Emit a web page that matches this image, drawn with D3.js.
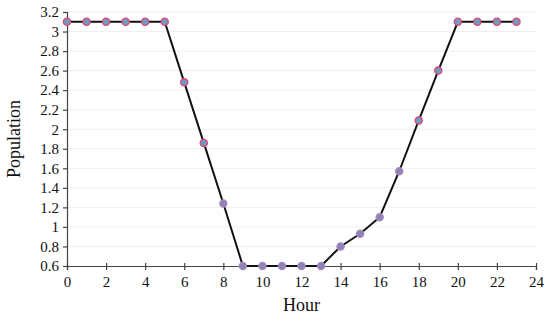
<!DOCTYPE html>
<html><head><meta charset="utf-8">
<script src="https://cdn.jsdelivr.net/npm/d3@7"></script>
<style>body{margin:0;background:#fff}text{font-family:"Liberation Serif","Times New Roman",serif;fill:#111}</style>
</head><body><svg id="c" width="550" height="322"></svg>
<script>
const hours = [0,1,2,3,4,5,6,7,8,9,10,11,12,13,14,15,16,17,18,19,20,21,22,23];
const population = [3.1,3.1,3.1,3.1,3.1,3.1,2.48,1.86,1.24,0.6,0.6,0.6,0.6,0.6,0.8,0.93,1.1,1.57,2.09,2.6,3.1,3.1,3.1,3.1];
const xTicks = [0,2,4,6,8,10,12,14,16,18,20,22,24];
const yTicks = [0.6,0.8,1,1.2,1.4,1.6,1.8,2,2.2,2.4,2.6,2.8,3,3.2];

const svg = d3.select("#c");
const m = {l:67, r:14, t:12, b:56};
const W = 550, H = 322;
const x = d3.scaleLinear().domain([0,24]).range([m.l, W-m.r]);
const y = d3.scaleLinear().domain([0.6,3.2]).range([H-m.b, m.t]);

svg.append("g").selectAll("line").data(yTicks.slice(1)).join("line")
  .attr("x1", x(0)).attr("x2", x(24)).attr("y1", d=>y(d)).attr("y2", d=>y(d))
  .attr("stroke", "#efefef").attr("stroke-width", 1);

const fmt = d => d3.format("~g")(d);
const yAx = svg.append("g").attr("transform", `translate(${x(0)},0)`)
  .call(d3.axisLeft(y).tickValues(yTicks).tickFormat(fmt).tickSize(4).tickPadding(4));
const xAx = svg.append("g").attr("transform", `translate(0,${y(0.6)})`)
  .call(d3.axisBottom(x).tickValues(xTicks).tickFormat(fmt).tickSize(4).tickPadding(6));
[yAx, xAx].forEach(g => {
  g.attr("font-family", "Liberation Serif").attr("font-size", 15);
  g.select(".domain").attr("stroke", "#444").attr("stroke-width", 1.2);
  g.selectAll(".tick line").attr("stroke", "#444").attr("stroke-width", 1.2);
  g.selectAll("text").style("font-family", "'Liberation Serif', serif").style("font-size", "15px").attr("fill", "#111");
});
xAx.selectAll(".tick line").attr("y1", -3);

const line = d3.line().x((d,i)=>x(hours[i])).y(d=>y(d));
svg.append("path").datum(population).attr("d", line)
  .attr("fill", "none").attr("stroke", "#111").attr("stroke-width", 2);

svg.append("g").selectAll("circle").data(population).join("circle")
  .attr("cx", (d,i)=>x(hours[i])).attr("cy", d=>y(d)).attr("r", 3.6)
  .attr("fill", d => d > 1.7 ? "#6f9ac4" : "#8f83b3")
  .attr("stroke", d => d > 1.7 ? "#e0456f" : "#a58cc0")
  .attr("stroke-width", 1.3);

svg.append("text").attr("x", (x(0)+x(24))/2).attr("y", 311).attr("text-anchor","middle")
  .style("font-size", "18px").text("Hour");
svg.append("text").attr("transform", `translate(20,${(y(0.6)+y(3.2))/2}) rotate(-90)`)
  .attr("text-anchor","middle").style("font-size", "18px").text("Population");
</script></body></html>
